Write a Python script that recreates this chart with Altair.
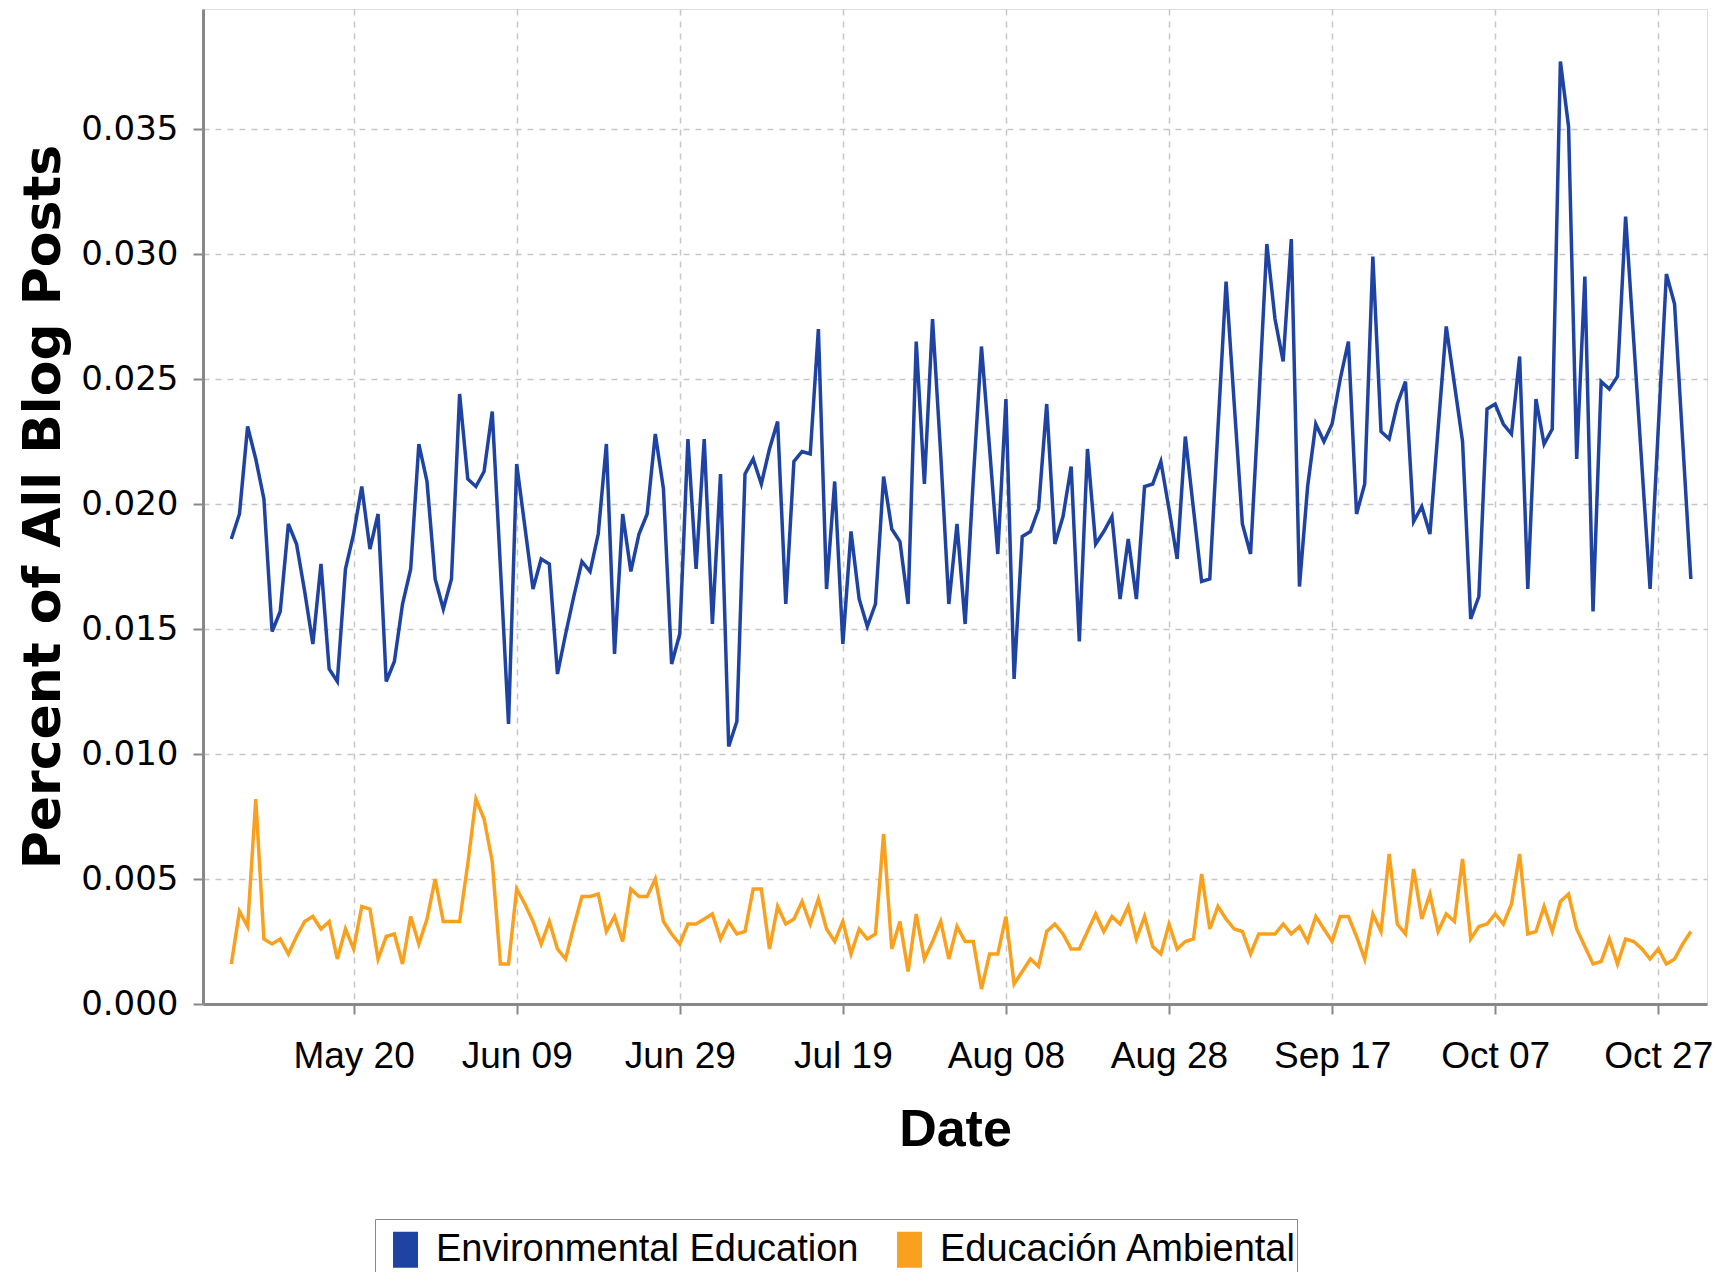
import altair as alt
import pandas as pd

# ---------------- data ----------------
start_date = "2008-05-05"

env_edu = [
    0.0186, 0.0196, 0.0231, 0.0218, 0.0202, 0.0149, 0.0157, 0.0192, 0.0184, 0.0165,
    0.0144, 0.0176, 0.0134, 0.0129, 0.0174, 0.0188, 0.0207, 0.0182, 0.0196, 0.0129,
    0.0137, 0.0160, 0.0174, 0.0224, 0.0209, 0.0170, 0.0158, 0.0170, 0.0244, 0.0210,
    0.0207, 0.0213, 0.0237, 0.0175, 0.0112, 0.0216, 0.0191, 0.0166, 0.0178, 0.0176,
    0.0132, 0.0148, 0.0163, 0.0177, 0.0173, 0.0188, 0.0224, 0.0140, 0.0196, 0.0173,
    0.0188, 0.0196, 0.0228, 0.0206, 0.0136, 0.0148, 0.0226, 0.0174, 0.0226, 0.0152,
    0.0212, 0.0103, 0.0113, 0.0212, 0.0218, 0.0208, 0.0222, 0.0233, 0.0160, 0.0217,
    0.0221, 0.0220, 0.0270, 0.0166, 0.0209, 0.0144, 0.0189, 0.0162, 0.0151, 0.0160,
    0.0211, 0.0190, 0.0185, 0.0160, 0.0265, 0.0208, 0.0274, 0.0220, 0.0160, 0.0192,
    0.0152, 0.0210, 0.0263, 0.0222, 0.0180, 0.0242, 0.0130, 0.0187, 0.0189, 0.0198,
    0.0240, 0.0184, 0.0195, 0.0215, 0.0145, 0.0222, 0.0184, 0.0189, 0.0195, 0.0162,
    0.0186, 0.0162, 0.0207, 0.0208, 0.0217, 0.0198, 0.0178, 0.0227, 0.0198, 0.0169,
    0.0170, 0.0230, 0.0289, 0.0240, 0.0192, 0.0180, 0.0240, 0.0304, 0.0274, 0.0257,
    0.0306, 0.0167, 0.0207, 0.0232, 0.0225, 0.0232, 0.0250, 0.0265, 0.0196, 0.0208,
    0.0299, 0.0229, 0.0226, 0.0240, 0.0249, 0.0193, 0.0199, 0.0188, 0.0230, 0.0271,
    0.0248, 0.0225, 0.0154, 0.0163, 0.0238, 0.0240, 0.0232, 0.0228, 0.0259, 0.0166,
    0.0242, 0.0224, 0.0230, 0.0377, 0.0351, 0.0218, 0.0291, 0.0157, 0.0249, 0.0246,
    0.0251, 0.0315, 0.0265, 0.0215, 0.0166, 0.0230, 0.0292, 0.0280, 0.0225, 0.0170,
]

edu_amb = [
    0.0016, 0.0037, 0.0031, 0.0082, 0.0026, 0.0024, 0.0026, 0.0020, 0.0027, 0.0033,
    0.0035, 0.0030, 0.0033, 0.0018, 0.0030, 0.0022, 0.0039, 0.0038, 0.0018, 0.0027,
    0.0028, 0.0016, 0.0035, 0.0024, 0.0034, 0.0050, 0.0033, 0.0033, 0.0033, 0.0056,
    0.0082, 0.0074, 0.0057, 0.0016, 0.0016, 0.0046, 0.0040, 0.0033, 0.0024, 0.0033,
    0.0022, 0.0018, 0.0031, 0.0043, 0.0043, 0.0044, 0.0029, 0.0035, 0.0025, 0.0046,
    0.0043, 0.0043, 0.0050, 0.0033, 0.0028, 0.0024, 0.0032, 0.0032, 0.0034, 0.0036,
    0.0026, 0.0033, 0.0028, 0.0029, 0.0046, 0.0046, 0.0022, 0.0039, 0.0032, 0.0034,
    0.0041, 0.0032, 0.0042, 0.0030, 0.0025, 0.0033, 0.0020, 0.0030, 0.0026, 0.0028,
    0.0068, 0.0022, 0.0033, 0.0013, 0.0036, 0.0018, 0.0025, 0.0033, 0.0018, 0.0031,
    0.0025, 0.0025, 0.0006, 0.0020, 0.0020, 0.0035, 0.0008, 0.0013, 0.0018, 0.0015,
    0.0029, 0.0032, 0.0028, 0.0022, 0.0022, 0.0029, 0.0036, 0.0029, 0.0035, 0.0032,
    0.0039, 0.0026, 0.0035, 0.0023, 0.0020, 0.0032, 0.0022, 0.0025, 0.0026, 0.0052,
    0.0030, 0.0039, 0.0034, 0.0030, 0.0029, 0.0020, 0.0028, 0.0028, 0.0028, 0.0032,
    0.0028, 0.0031, 0.0025, 0.0035, 0.0030, 0.0025, 0.0035, 0.0035, 0.0027, 0.0018,
    0.0036, 0.0029, 0.0060, 0.0032, 0.0028, 0.0054, 0.0034, 0.0044, 0.0029, 0.0036,
    0.0033, 0.0058, 0.0026, 0.0031, 0.0032, 0.0036, 0.0032, 0.0040, 0.0060, 0.0028,
    0.0029, 0.0039, 0.0029, 0.0041, 0.0044, 0.0030, 0.0023, 0.0016, 0.0017, 0.0026,
    0.0016, 0.0026, 0.0025, 0.0022, 0.0018, 0.0022, 0.0016, 0.0018, 0.0024, 0.0029,
]

series_names = ["Environmental Education", "Educación Ambiental"]
series_colors = ["#1e43a3", "#f9a01e"]

x_tick_dates = ["2008-05-20", "2008-06-09", "2008-06-29", "2008-07-19", "2008-08-08",
                "2008-08-28", "2008-09-17", "2008-10-07", "2008-10-27"]
x_domain = ["2008-05-01T12:42", "2008-11-01T23:30"]
y_ticks = [0.000, 0.005, 0.010, 0.015, 0.020, 0.025, 0.030, 0.035]
y_max = 0.0398

# ---------------- build table ----------------
dates = pd.date_range(start_date, periods=len(env_edu), freq="D").strftime("%Y-%m-%d")
df = pd.concat([
    pd.DataFrame({"date": dates, "value": env_edu, "series": series_names[0]}),
    pd.DataFrame({"date": dates, "value": edu_amb, "series": series_names[1]}),
], ignore_index=True)


def to_dt(s):
    ts = pd.Timestamp(s)
    return alt.DateTime(year=ts.year, month=ts.month, date=ts.day,
                        hours=ts.hour, minutes=ts.minute, utc=True)


tick_values = [to_dt(s) for s in x_tick_dates]
dom = [to_dt(s) for s in x_domain]

NARROW = "Liberation Sans"

chart = alt.Chart(df).mark_line(strokeWidth=3.5).encode(
    x=alt.X(
        "date:T",
        scale=alt.Scale(type="utc", domain=dom, nice=False),
        axis=alt.Axis(
            title="Date", values=tick_values, format="%b %d",
            labelFont=NARROW, labelFontSize=37, labelColor="black",
            labelPadding=24, tickSize=10, tickColor="#888888", tickWidth=2,
            titleFont=NARROW, titleFontSize=52, titleFontWeight="bold",
            titleColor="black", titlePadding=30,
            grid=True, gridColor="#c6c6c6", gridDash=[6, 6], gridWidth=1.5,
            domainColor="#888888", domainWidth=3, labelFlush=False,
            labelOverlap=False,
        ),
    ),
    y=alt.Y(
        "value:Q",
        scale=alt.Scale(domain=[0, y_max], nice=False, zero=True),
        axis=alt.Axis(
            title="Percent of All Blog Posts", values=y_ticks, format=".3f",
            labelFont="DejaVu Sans", labelFontSize=34, labelColor="black",
            labelPadding=15, tickSize=10, tickColor="#888888", tickWidth=2,
            titleFont="DejaVu Sans", titleFontSize=52, titleFontWeight="bold",
            titleColor="black", titlePadding=10,
            grid=True, gridColor="#c6c6c6", gridDash=[6, 6], gridWidth=1.5,
            domainColor="#888888", domainWidth=3, labelFlush=False,
        ),
    ),
    color=alt.Color(
        "series:N",
        scale=alt.Scale(domain=series_names, range=series_colors),
        legend=alt.Legend(
            title=None, orient="none", legendX=172, legendY=1210,
            direction="horizontal",
            symbolType="M0,-1V1", symbolSize=1296, symbolStrokeWidth=25,
            labelFont=NARROW, labelFontSize=38, labelColor="black",
            labelOffset=0, columnPadding=0, padding=0, labelLimit=0,
            strokeColor="#888888", fillColor="white",
        ),
    ),
    detail="series:N",
).properties(
    width=1504,
    height=995,
    autosize=alt.AutoSizeParams(type="none"),
    padding={"left": 195, "top": 1, "right": 7, "bottom": 268},
).configure_view(
    stroke="#aaaaaa", strokeWidth=2
).configure(
    background="white"
)

chart.save("out.html", embed_options={"renderer": "svg", "actions": False})
